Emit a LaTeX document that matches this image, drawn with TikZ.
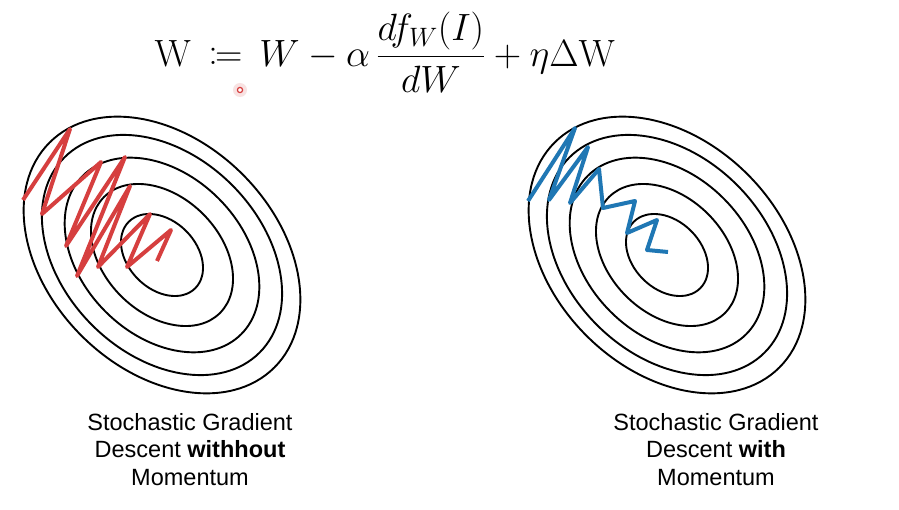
\RequirePackage{fix-cm}
\documentclass[tikz,border=0pt]{standalone}
\usepackage{mathtools}
\usepackage[no-math]{fontspec}
\setmainfont{Liberation Sans}
\definecolor{redc}{HTML}{D63F3F}
\definecolor{bluec}{HTML}{1F77B4}
\begin{document}
\begin{tikzpicture}[x=1pt,y=1pt,
  contour/.style={draw=black,line width=1.9pt},
  zigred/.style={draw=redc,line width=4pt,line join=round},
  zigblue/.style={draw=bluec,line width=4pt,line join=round},
  caption/.style={align=center,inner sep=0pt,anchor=north,
    font=\fontsize{23.5}{27.5}\selectfont}]
\useasboundingbox[fill=white] (0,0) rectangle (899,509);
% equation
\node (eq) at (385,457) {\fontsize{38}{42}\selectfont
  $\displaystyle \mathrm{W} \mathrel{\,\coloneqq\,} W - \alpha\,\frac{df_W(I)}{dW} + \eta\Delta\mathrm{W}$};
% cursor mark
\fill[redc,opacity=0.15] (240,419) circle (7);
\draw[redc,line width=1.2pt,fill=white] (240,419) circle (2.6);
% left contours
\foreach \a/\b in {159/114,138/99,112/80,82/58,47/34}{
  \draw[contour,rotate around={-45:(162,254)}] (162,254) ellipse [x radius=\a, y radius=\b];
}
% right contours
\foreach \a/\b in {159/114,138/99,112/80,82/58,47/34}{
  \draw[contour,rotate around={-45:(667,254)}] (667,254) ellipse [x radius=\a, y radius=\b];
}
% red zigzag
\draw[zigred] (23,309) -- (70,380) -- (42,295) -- (101,347) -- (66,263) -- (125,352)
  -- (77,233) -- (130,323) -- (98,242) -- (150,295) -- (127,242) -- (171,279) -- (157,248);
% blue zigzag
\draw[zigblue] (528,308) -- (575,381) -- (549,309) -- (588,362) -- (570,306) -- (599,340)
  -- (603,301) -- (635,308) -- (627,276) -- (657,289) -- (647,259) -- (668,257);
% captions
\node[caption] (capL) at (190,96) {Stochastic Gradient\\Descent \textbf{withhout}\\Momentum};
\node[caption] (capR) at (716,96) {Stochastic Gradient\\Descent \textbf{with}\\Momentum};
\end{tikzpicture}
\end{document}
